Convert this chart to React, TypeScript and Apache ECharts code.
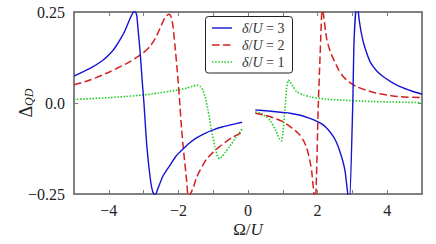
import { useEffect, useRef } from "react";
import * as echarts from "echarts";

const seriesNames = ["δ/U = 3", "δ/U = 2", "δ/U = 1"];
const seriesColors = ["#1414d2", "#d42020", "#22cc22"];

// δ/U = 3 (blue, solid)
const blue3Left: [number, number][] = [
  [-5, 0.074], [-4.54, 0.095], [-4.16, 0.118], [-3.9, 0.142], [-3.78, 0.158], [-3.65, 0.178],
  [-3.53, 0.2], [-3.39, 0.232], [-3.3, 0.249], [-3.25, 0.252], [-3.2, 0.242], [-3.17, 0.214],
  [-3.1, 0.14], [-3.04, 0.06], [-2.99, 0.0], [-2.91, -0.115], [-2.81, -0.206], [-2.74, -0.243],
  [-2.67, -0.254], [-2.6, -0.238], [-2.44, -0.2], [-2.25, -0.172], [-2.06, -0.145], [-1.86, -0.126],
  [-1.68, -0.11], [-1.48, -0.096], [-1.25, -0.084], [-1.0, -0.074], [-0.75, -0.066], [-0.5, -0.06],
  [-0.17, -0.053],
];
const blue3Right: [number, number][] = [
  [0.21, -0.019], [0.6, -0.022], [1.0, -0.026], [1.21, -0.028], [1.48, -0.033], [1.78, -0.042],
  [2.0, -0.051], [2.16, -0.06], [2.3, -0.073], [2.45, -0.092], [2.55, -0.11], [2.64, -0.133],
  [2.72, -0.158], [2.79, -0.188], [2.91, -0.28], [3.01, -0.005], [3.05, 0.177], [3.13, 0.28],
  [3.2, 0.225], [3.27, 0.186], [3.35, 0.155], [3.51, 0.113], [3.7, 0.088], [3.89, 0.072],
  [4.1, 0.059], [4.37, 0.045], [4.7, 0.033], [5, 0.024],
];

// δ/U = 2 (red, dashed)
const red2Left: [number, number][] = [
  [-5, 0.05], [-4.54, 0.063], [-3.97, 0.086], [-3.4, 0.113], [-3.01, 0.138], [-2.82, 0.155],
  [-2.65, 0.18], [-2.53, 0.205], [-2.39, 0.234], [-2.3, 0.243], [-2.26, 0.244], [-2.2, 0.234],
  [-2.16, 0.214], [-2.1, 0.159], [-2.03, 0.086], [-1.97, 0.013], [-1.91, -0.069], [-1.84, -0.142],
  [-1.76, -0.216], [-1.72, -0.256], [-1.65, -0.248], [-1.57, -0.232], [-1.48, -0.205],
  [-1.38, -0.185], [-1.2, -0.155], [-1.0, -0.135], [-0.82, -0.12], [-0.6, -0.104],
  [-0.44, -0.094], [-0.17, -0.081],
];
const red2Right: [number, number][] = [
  [0.21, -0.028], [0.62, -0.037], [1.0, -0.051], [1.21, -0.065], [1.35, -0.075], [1.49, -0.088],
  [1.6, -0.104], [1.69, -0.124], [1.77, -0.155], [1.83, -0.188], [1.93, -0.28], [2.02, -0.005],
  [2.09, 0.177], [2.135, 0.27], [2.16, 0.25], [2.26, 0.177], [2.35, 0.145], [2.45, 0.122],
  [2.6, 0.092], [2.74, 0.072], [2.9, 0.058], [3.12, 0.045], [3.4, 0.035], [3.7, 0.027],
  [4.0, 0.022], [4.37, 0.017], [5, 0.015],
];

// δ/U = 1 (green, dotted)
const green1Left: [number, number][] = [
  [-5, 0.01], [-4.5, 0.012], [-3.97, 0.015], [-3.5, 0.018], [-3.01, 0.022], [-2.6, 0.027],
  [-2.25, 0.032], [-2.0, 0.036], [-1.77, 0.041], [-1.6, 0.046], [-1.47, 0.049], [-1.38, 0.046],
  [-1.3, 0.036], [-1.22, 0.012], [-1.15, -0.019], [-1.05, -0.074], [-0.95, -0.12],
  [-0.87, -0.148], [-0.82, -0.153], [-0.75, -0.148], [-0.65, -0.135], [-0.53, -0.12],
  [-0.35, -0.095], [-0.17, -0.072],
];
const green1Right: [number, number][] = [
  [0.21, -0.024], [0.35, -0.028], [0.52, -0.037], [0.65, -0.05], [0.81, -0.078], [0.9, -0.098],
  [0.96, -0.104], [1.0, -0.085], [1.06, -0.019], [1.11, 0.04], [1.16, 0.063], [1.21, 0.058],
  [1.3, 0.045], [1.4, 0.031], [1.6, 0.022], [1.78, 0.017], [2.2, 0.011], [2.64, 0.008],
  [3.6, 0.004], [5, 0.001],
];

const xMin = -5;
const xMax = 5;
const yMin = -0.25;
const yMax = 0.25;

const FONT = "Times New Roman";
const FRAME = "#7a7a7a";

function fmtX(v: number): string {
  if (Math.round(v) % 2 !== 0) return "";
  if (v < 0) return "\u2212" + Math.abs(v);
  return String(Math.abs(v));
}
function fmtY(v: number): string {
  if (Math.abs(v) < 1e-9) return "0.0";
  return (v < 0 ? "\u2212" : "") + Math.abs(v).toFixed(2);
}

export default function App() {
  const ref = useRef<HTMLDivElement>(null);
  useEffect(() => {
    if (!ref.current) return;
    const chart = echarts.init(ref.current, null, { renderer: "svg" });
    const dashTypes: any[] = ["solid", [7.5, 3.5], [1.5, 1.6]];
    const widths = [1.4, 1.5, 1.6];
    const segs = [
      [blue3Left, blue3Right],
      [red2Left, red2Right],
      [green1Left, green1Right],
    ];
    const series: any[] = [];
    segs.forEach((pair, i) => {
      pair.forEach((data) => {
        series.push({
          type: "line",
          name: seriesNames[i],
          data,
          showSymbol: false,
          symbol: "none",
          smooth: 0.2,
          clip: true,
          color: seriesColors[i],
          lineStyle: { color: seriesColors[i], width: widths[i], type: dashTypes[i] },
          z: 3 - i,
        });
      });
    });

    const lx = 205.5;
    const ly = 16.5;
    const rowY = [28, 45, 62];
    const legendChildren: any[] = [
      {
        type: "rect",
        shape: { x: lx, y: ly, width: 87, height: 56.5, r: 3 },
        style: { fill: "rgba(255,255,255,0.92)", stroke: "#222", lineWidth: 1 },
        z: 10,
      },
    ];
    seriesNames.forEach((name, i) => {
      const val = name.split("= ")[1];
      legendChildren.push({
        type: "line",
        shape: { x1: 212, y1: rowY[i], x2: 232, y2: rowY[i] },
        style: {
          stroke: seriesColors[i],
          lineWidth: widths[i],
          lineDash: i === 0 ? null : dashTypes[i],
        },
        z: 11,
      });
      legendChildren.push({
        type: "text",
        x: 242,
        y: rowY[i],
        style: {
          text: `{i|δ}{r|/}{i|U}{r| = ${val}}`,
          verticalAlign: "middle",
          align: "left",
          fontFamily: FONT,
          fontSize: 14,
          rich: {
            i: { fontFamily: FONT, fontStyle: "italic", fontSize: 14, fill: "#333" },
            r: { fontFamily: FONT, fontSize: 14, fill: "#333" },
          },
        },
        z: 11,
      });
    });

    const axisCommon = {
      type: "value" as const,
      splitLine: { show: false },
      axisLine: { show: true, onZero: false, lineStyle: { color: FRAME, width: 1.5 } },
      axisTick: { show: true, inside: true, length: 4, lineStyle: { color: FRAME, width: 1 } },
    };

    chart.setOption({
      animation: false,
      backgroundColor: "#ffffff",
      textStyle: { fontFamily: FONT },
      grid: {
        left: 74,
        right: 14,
        top: 12,
        bottom: 50,
        containLabel: false,
        show: true,
        borderColor: FRAME,
        borderWidth: 1.5,
        backgroundColor: "transparent",
      },
      graphic: legendChildren,
      xAxis: [
        {
          ...axisCommon,
          position: "bottom",
          min: xMin,
          max: xMax,
          interval: 1,
          axisLabel: {
            show: true,
            formatter: fmtX,
            fontFamily: FONT,
            fontSize: 16,
            color: "#222",
            margin: 8,
          },
          name: "{r|Ω/}{i|U}",
          nameLocation: "middle",
          nameGap: 27,
          nameMoveOverlap: false,
          nameTextStyle: {
            fontFamily: FONT,
            fontSize: 17,
            rich: {
              r: { fontFamily: FONT, fontSize: 17, color: "#222" },
              i: { fontFamily: FONT, fontSize: 17, fontStyle: "italic", color: "#222" },
            },
          },
        },
        {
          ...axisCommon,
          position: "top",
          min: xMin,
          max: xMax,
          interval: 1,
          axisLabel: { show: false },
        },
      ],
      yAxis: [
        {
          ...axisCommon,
          position: "left",
          min: yMin,
          max: yMax,
          interval: 0.25,
          axisLabel: {
            show: true,
            formatter: fmtY,
            fontFamily: FONT,
            fontSize: 16,
            color: "#222",
            margin: 9,
          },
          name: "{d|Δ}{s|QD}",
          nameLocation: "middle",
          nameGap: 39,
          nameMoveOverlap: false,
          nameTextStyle: {
            fontFamily: FONT,
            rich: {
              d: { fontFamily: FONT, fontSize: 18, color: "#222", lineHeight: 18, verticalAlign: "top" },
              s: { fontFamily: FONT, fontSize: 12, fontStyle: "italic", color: "#222", lineHeight: 9, verticalAlign: "bottom" },
            },
          },
        },
        {
          ...axisCommon,
          position: "right",
          min: yMin,
          max: yMax,
          interval: 0.25,
          axisLabel: { show: false },
        },
      ],
      series,
    });
    return () => chart.dispose();
  }, []);
  return (
    <div
      ref={ref}
      style={{ position: "fixed", left: 0, top: 0, width: 436, height: 244, background: "#fff" }}
    />
  );
}
